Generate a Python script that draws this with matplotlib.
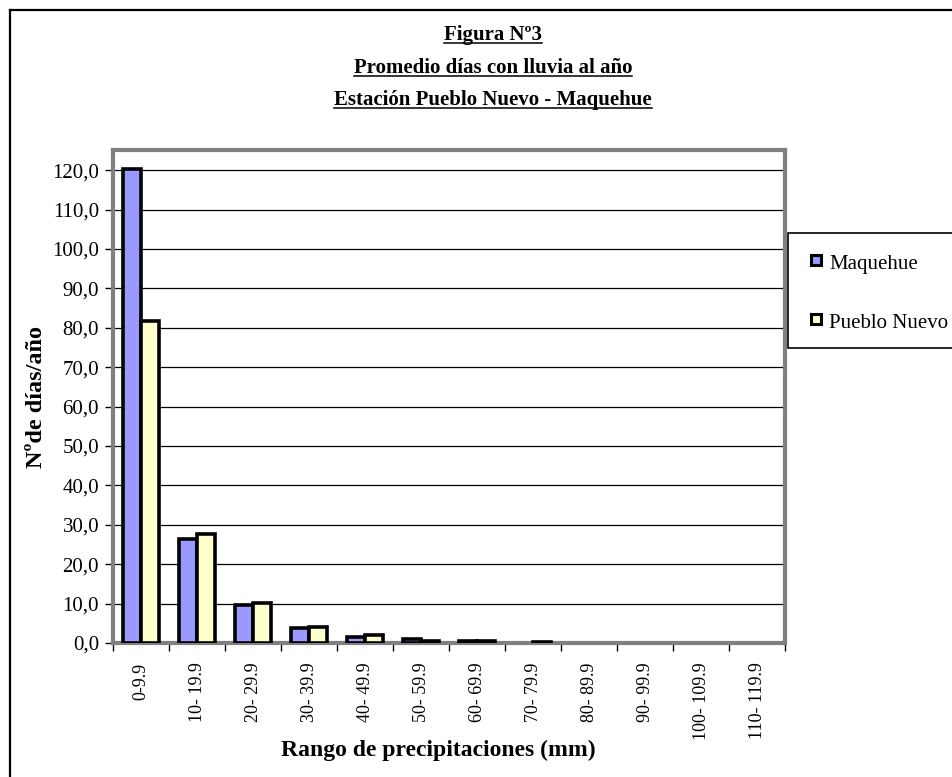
import numpy as np
import matplotlib
matplotlib.use("Agg")
import matplotlib.pyplot as plt
from matplotlib.lines import Line2D
from matplotlib.patches import Rectangle

# Rainfall ranges (mm) and average rainy days per year
categories = ["0-9.9", "10- 19.9", "20- 29.9", "30- 39.9", "40- 49.9", "50- 59.9",
              "60- 69.9", "70- 79.9", "80- 89.9", "90- 99.9", "100- 109.9", "110- 119.9"]
maquehue = [120.2, 26.4, 9.6, 3.8, 1.5, 1.0, 0.4, 0.0, 0.0, 0.0, 0.0, 0.0]
pueblo_nuevo = [81.7, 27.7, 10.1, 4.0, 2.0, 0.6, 0.4, 0.3, 0.0, 0.0, 0.0, 0.0]
series_names = ["Maquehue", "Pueblo Nuevo"]
y_ticks = list(range(0, 121, 10))
title_lines = ["Figura Nº3", "Promedio días con lluvia al año",
               "Estación Pueblo Nuevo - Maquehue"]

SERIF = ["Liberation Serif", "DejaVu Serif"]
plt.rcParams["font.family"] = SERIF

W, H = 953, 777
fig = plt.figure(figsize=(W / 100, H / 100), dpi=100)


def fx(x):
    return x / W


def fy(y):
    return 1 - y / H


colors = ["#9999FF", "#FFFFCC"]

ax = fig.add_axes([fx(113), fy(643), 672 / W, 493 / H])
x = np.arange(len(categories))
bw = 0.32
for k, (vals, col) in enumerate(zip([maquehue, pueblo_nuevo], colors)):
    lw = [2.6 if v > 0 else 0 for v in vals]
    ax.bar(x + (k - 0.5) * bw, vals, width=bw, color=col, edgecolor="black",
           linewidth=lw, zorder=3)

ax.set_xlim(-0.5, len(categories) - 0.5)
ax.set_ylim(0, 125.1)
ax.set_axisbelow(True)
ax.yaxis.grid(True, color="black", linewidth=0.9)
for sp in ax.spines.values():
    sp.set_color("#808080")
    sp.set_linewidth(3)

ax.set_yticks(y_ticks)
ax.set_yticklabels([f"{v:.1f}".replace(".", ",") for v in y_ticks], fontsize=15)
ax.tick_params(axis="y", direction="out", length=6, width=1, color="black", pad=4)

ax.set_xticks(x)
ax.set_xticklabels(categories, rotation=90, fontsize=13, va="top")
ax.set_xticks(np.arange(-0.5, len(categories), 1), minor=True)
ax.tick_params(axis="x", which="major", length=0, pad=14)
ax.tick_params(axis="x", which="minor", direction="out", length=6, width=1, color="black")

# Axis titles
fig.text(fx(36), fy(397), "Nºde días/año", rotation=90, ha="center", va="center",
         fontsize=17.5, fontweight="bold")
fig.text(fx(438), fy(750), "Rango de precipitaciones (mm)", ha="center", va="center",
         fontsize=17, fontweight="bold")

# Legend box
fig.add_artist(Rectangle((fx(788), fy(348)), 165 / W, 115 / H, transform=fig.transFigure,
                         facecolor="white", edgecolor="black", linewidth=1.2))
for name, col, yy in zip(series_names, colors, [260, 319]):
    fig.add_artist(Line2D([fx(816)], [fy(yy)], marker="s", markersize=7,
                          markerfacecolor=col, markeredgecolor="black",
                          markeredgewidth=2.2, linestyle="none",
                          transform=fig.transFigure))
    fig.text(fx(829), fy(yy + 4), name, ha="left", va="center", fontsize=15)

# Outer chart frame
fig.add_artist(Line2D([fx(10), fx(10)], [fy(10), fy(H + 5)], color="black",
                      linewidth=1.6, transform=fig.transFigure))
fig.add_artist(Line2D([fx(10), fx(W + 5)], [fy(10), fy(10)], color="black",
                      linewidth=1.6, transform=fig.transFigure))

# Underlined bold title
title_texts = []
for line, yb in zip(title_lines, [40, 73, 105]):
    t = fig.text(fx(493), fy(yb), line, ha="center", va="baseline",
                 fontsize=15, fontweight="bold")
    title_texts.append((t, yb))

fig.canvas.draw()
renderer = fig.canvas.get_renderer()
for t, yb in title_texts:
    bb = t.get_window_extent(renderer)
    fig.add_artist(Line2D([bb.x0 / W, bb.x1 / W], [fy(yb + 3), fy(yb + 3)],
                          color="black", linewidth=1.1, transform=fig.transFigure))

fig.savefig("out.png", dpi=100)
